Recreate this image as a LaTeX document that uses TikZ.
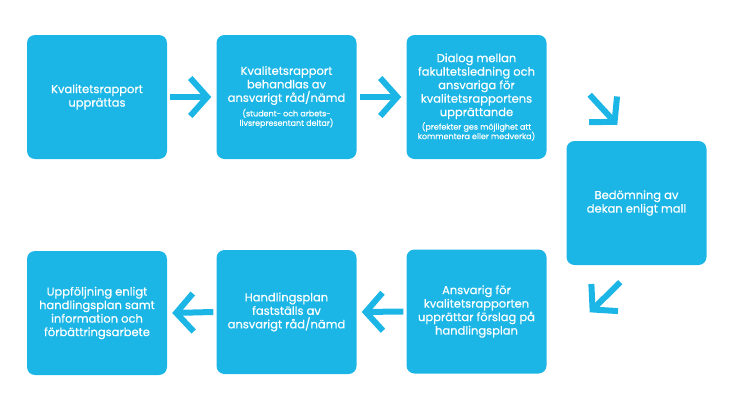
\documentclass[tikz,border=0pt]{standalone}
\usepackage{fontspec}
\setmainfont{Poppins}[FakeBold=0.5]
\usetikzlibrary{arrows.meta}
\definecolor{boxblue}{RGB}{27,182,230}
\newcommand\smalltxt[1]{{\fontsize{8}{9}\selectfont #1}}
\begin{document}
\begin{tikzpicture}[x=1pt,y=-1pt,
  box/.style={fill=boxblue, rounded corners=8pt, minimum width=140pt,
    minimum height=124pt, inner sep=0pt, text=white, align=center,
    font=\fontsize{11.5}{13.5}\selectfont},
  flow/.style={draw=boxblue, line width=6pt,
    -{Straight Barb[length=17pt,width=38pt]}},
]
\useasboundingbox (0,0) rectangle (740,410);
\node[box] (b1) at (97,97) {Kvalitetsrapport\\upprättas};
\node[box] (b2) at (286.5,97) {Kvalitetsrapport\\behandlas av\\ansvarigt råd/nämd\\[1pt]
  \smalltxt{(student- och arbets-}\\[-4pt]\smalltxt{livsrepresentant deltar)}};
\node[box] (b3) at (476.5,97) {Dialog mellan\\fakultetsledning och\\ansvariga för\\kvalitetsrapportens\\upprättande\\[0pt]
  \smalltxt{(prefekter ges möjlighet att}\\[-4pt]\smalltxt{kommentera eller medverka)}};
\node[box] (b4) at (636.5,203) {Bedömning av\\dekan enligt mall};
\node[box] (b5) at (476.5,311.5) {Ansvarig för\\kvalitetsrapporten\\upprättar förslag på\\handlingsplan};
\node[box] (b6) at (286.5,312) {Handlingsplan\\fastställs av\\ansvarigt råd/nämd};
\node[box] (b7) at (97,313) {Uppföljning enligt\\handlingsplan samt\\information och\\förbättringsarbete};

\draw[flow] ([shift={(3,0)}]b1.east) -- ([shift={(-5,0)}]b2.west);
\draw[flow] ([shift={(3,0)}]b2.east) -- ([shift={(-5,0)}]b3.west);
\draw[flow] ([shift={(43,60)}]b3.north east) -- ([shift={(51,-16)}]b4.north west);
\draw[flow] ([shift={(54,17)}]b4.south west) -- ([shift={(43,63)}]b5.north east);
\draw[flow] ([shift={(-3,0)}]b5.west) -- ([shift={(5,0)}]b6.east);
\draw[flow] ([shift={(-3,0)}]b6.west) -- ([shift={(5,0)}]b7.east);
\end{tikzpicture}
\end{document}
